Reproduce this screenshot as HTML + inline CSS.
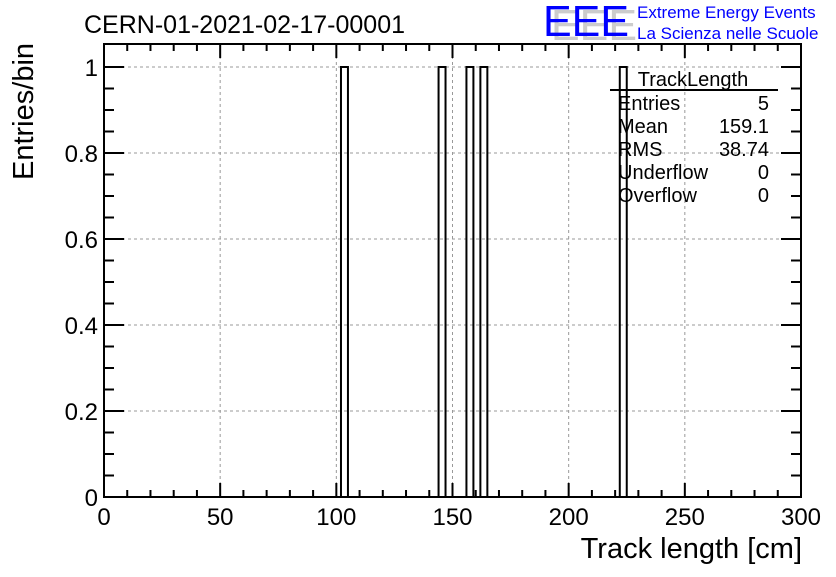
<!DOCTYPE html>
<html><head><meta charset="utf-8"><style>
body{margin:0;background:#fff;}
svg text{font-family:"Liberation Sans",sans-serif;}
</style></head><body>
<svg width="836" height="572" xmlns="http://www.w3.org/2000/svg">
<text x="84" y="33" font-size="25">CERN-01-2021-02-17-00001</text>
<g>
<text x="551" y="40" font-size="44" fill="#ccc" textLength="86" lengthAdjust="spacingAndGlyphs">EEE</text>
<text x="543" y="36" font-size="44" fill="#00f" textLength="86" lengthAdjust="spacingAndGlyphs">EEE</text>
<text x="637" y="18" font-size="17" fill="#00f">Extreme Energy Events</text>
<text x="637" y="39" font-size="17" fill="#00f">La Scienza nelle Scuole</text>
</g>
<g id="grid"></g>
<g id="bars"></g>
<g id="axes"></g>
<rect x="104" y="44" width="697" height="453" fill="none" stroke="#000" stroke-width="2"/>
<text x="802" y="558" font-size="29" text-anchor="end">Track length [cm]</text>
<text transform="translate(33,180) rotate(-90)" font-size="29">Entries/bin</text>
<g font-size="20">
<text x="693" y="86" text-anchor="middle">TrackLength</text>
<line x1="610" y1="90" x2="778" y2="90" stroke="#000" stroke-width="2"/>
<text x="618" y="110">Entries</text><text x="769" y="110" text-anchor="end">5</text>
<text x="618" y="133">Mean</text><text x="769" y="133" text-anchor="end">159.1</text>
<text x="618" y="156">RMS</text><text x="769" y="156" text-anchor="end">38.74</text>
<text x="618" y="179">Underflow</text><text x="769" y="179" text-anchor="end">0</text>
<text x="618" y="202">Overflow</text><text x="769" y="202" text-anchor="end">0</text>
</g>
</svg>
<script>
const binLows=[102,144,156,162,222];
const binCounts=[1,1,1,1,1];
const binWidth=3;
const xTicks=[0,50,100,150,200,250,300];
const yTicks=[0,0.2,0.4,0.6,0.8,1];
const X0=104,X1=801,Y0=497,Y1=67;
const sx=v=>X0+v*(X1-X0)/300;
const sy=v=>Y0-v*(Y0-Y1);
const NS="http://www.w3.org/2000/svg";
function mk(t,a,p){const e=document.createElementNS(NS,t);for(const k in a)e.setAttribute(k,a[k]);p.appendChild(e);return e;}
const grid=document.getElementById('grid'),bars=document.getElementById('bars'),axes=document.getElementById('axes');
xTicks.forEach(v=>{if(v>0&&v<300){const l=mk('line',{x1:sx(v),x2:sx(v),y1:44,y2:497,stroke:'#999','stroke-dasharray':'3,3'},grid);

}});
yTicks.forEach(v=>{if(v>0){const l=mk('line',{x1:104,x2:801,y1:sy(v),y2:sy(v),stroke:'#999','stroke-dasharray':'3,3'},grid);

}});
binLows.forEach((b,i)=>{const r=mk('rect',{x:sx(b),y:sy(binCounts[i]),width:sx(b+binWidth)-sx(b),height:sy(0)-sy(binCounts[i]),fill:'none',stroke:'#000','stroke-width':2},bars);

});
for(let v=0;v<=300;v+=10){const major=v%50===0;const len=major?14:7;
mk('line',{x1:sx(v),x2:sx(v),y1:497,y2:497-len,stroke:'#000','stroke-width':2},axes);
mk('line',{x1:sx(v),x2:sx(v),y1:44,y2:44+len,stroke:'#000','stroke-width':2},axes);}
for(let k=0;k<=20;k++){const v=k*0.05;const major=k%4===0;const len=major?20:10;
mk('line',{x1:104,x2:104+len,y1:sy(v),y2:sy(v),stroke:'#000','stroke-width':2},axes);
mk('line',{x1:801,x2:801-len,y1:sy(v),y2:sy(v),stroke:'#000','stroke-width':2},axes);}
xTicks.forEach(v=>{const t=mk('text',{x:sx(v),y:525,'font-size':24,'text-anchor':'middle'},axes);t.textContent=v;

});
yTicks.forEach(v=>{const t=mk('text',{x:98,y:sy(v)+9,'font-size':24,'text-anchor':'end'},axes);t.textContent=v===0||v===1?String(v):v.toFixed(1);

});
</script>
</body></html>
